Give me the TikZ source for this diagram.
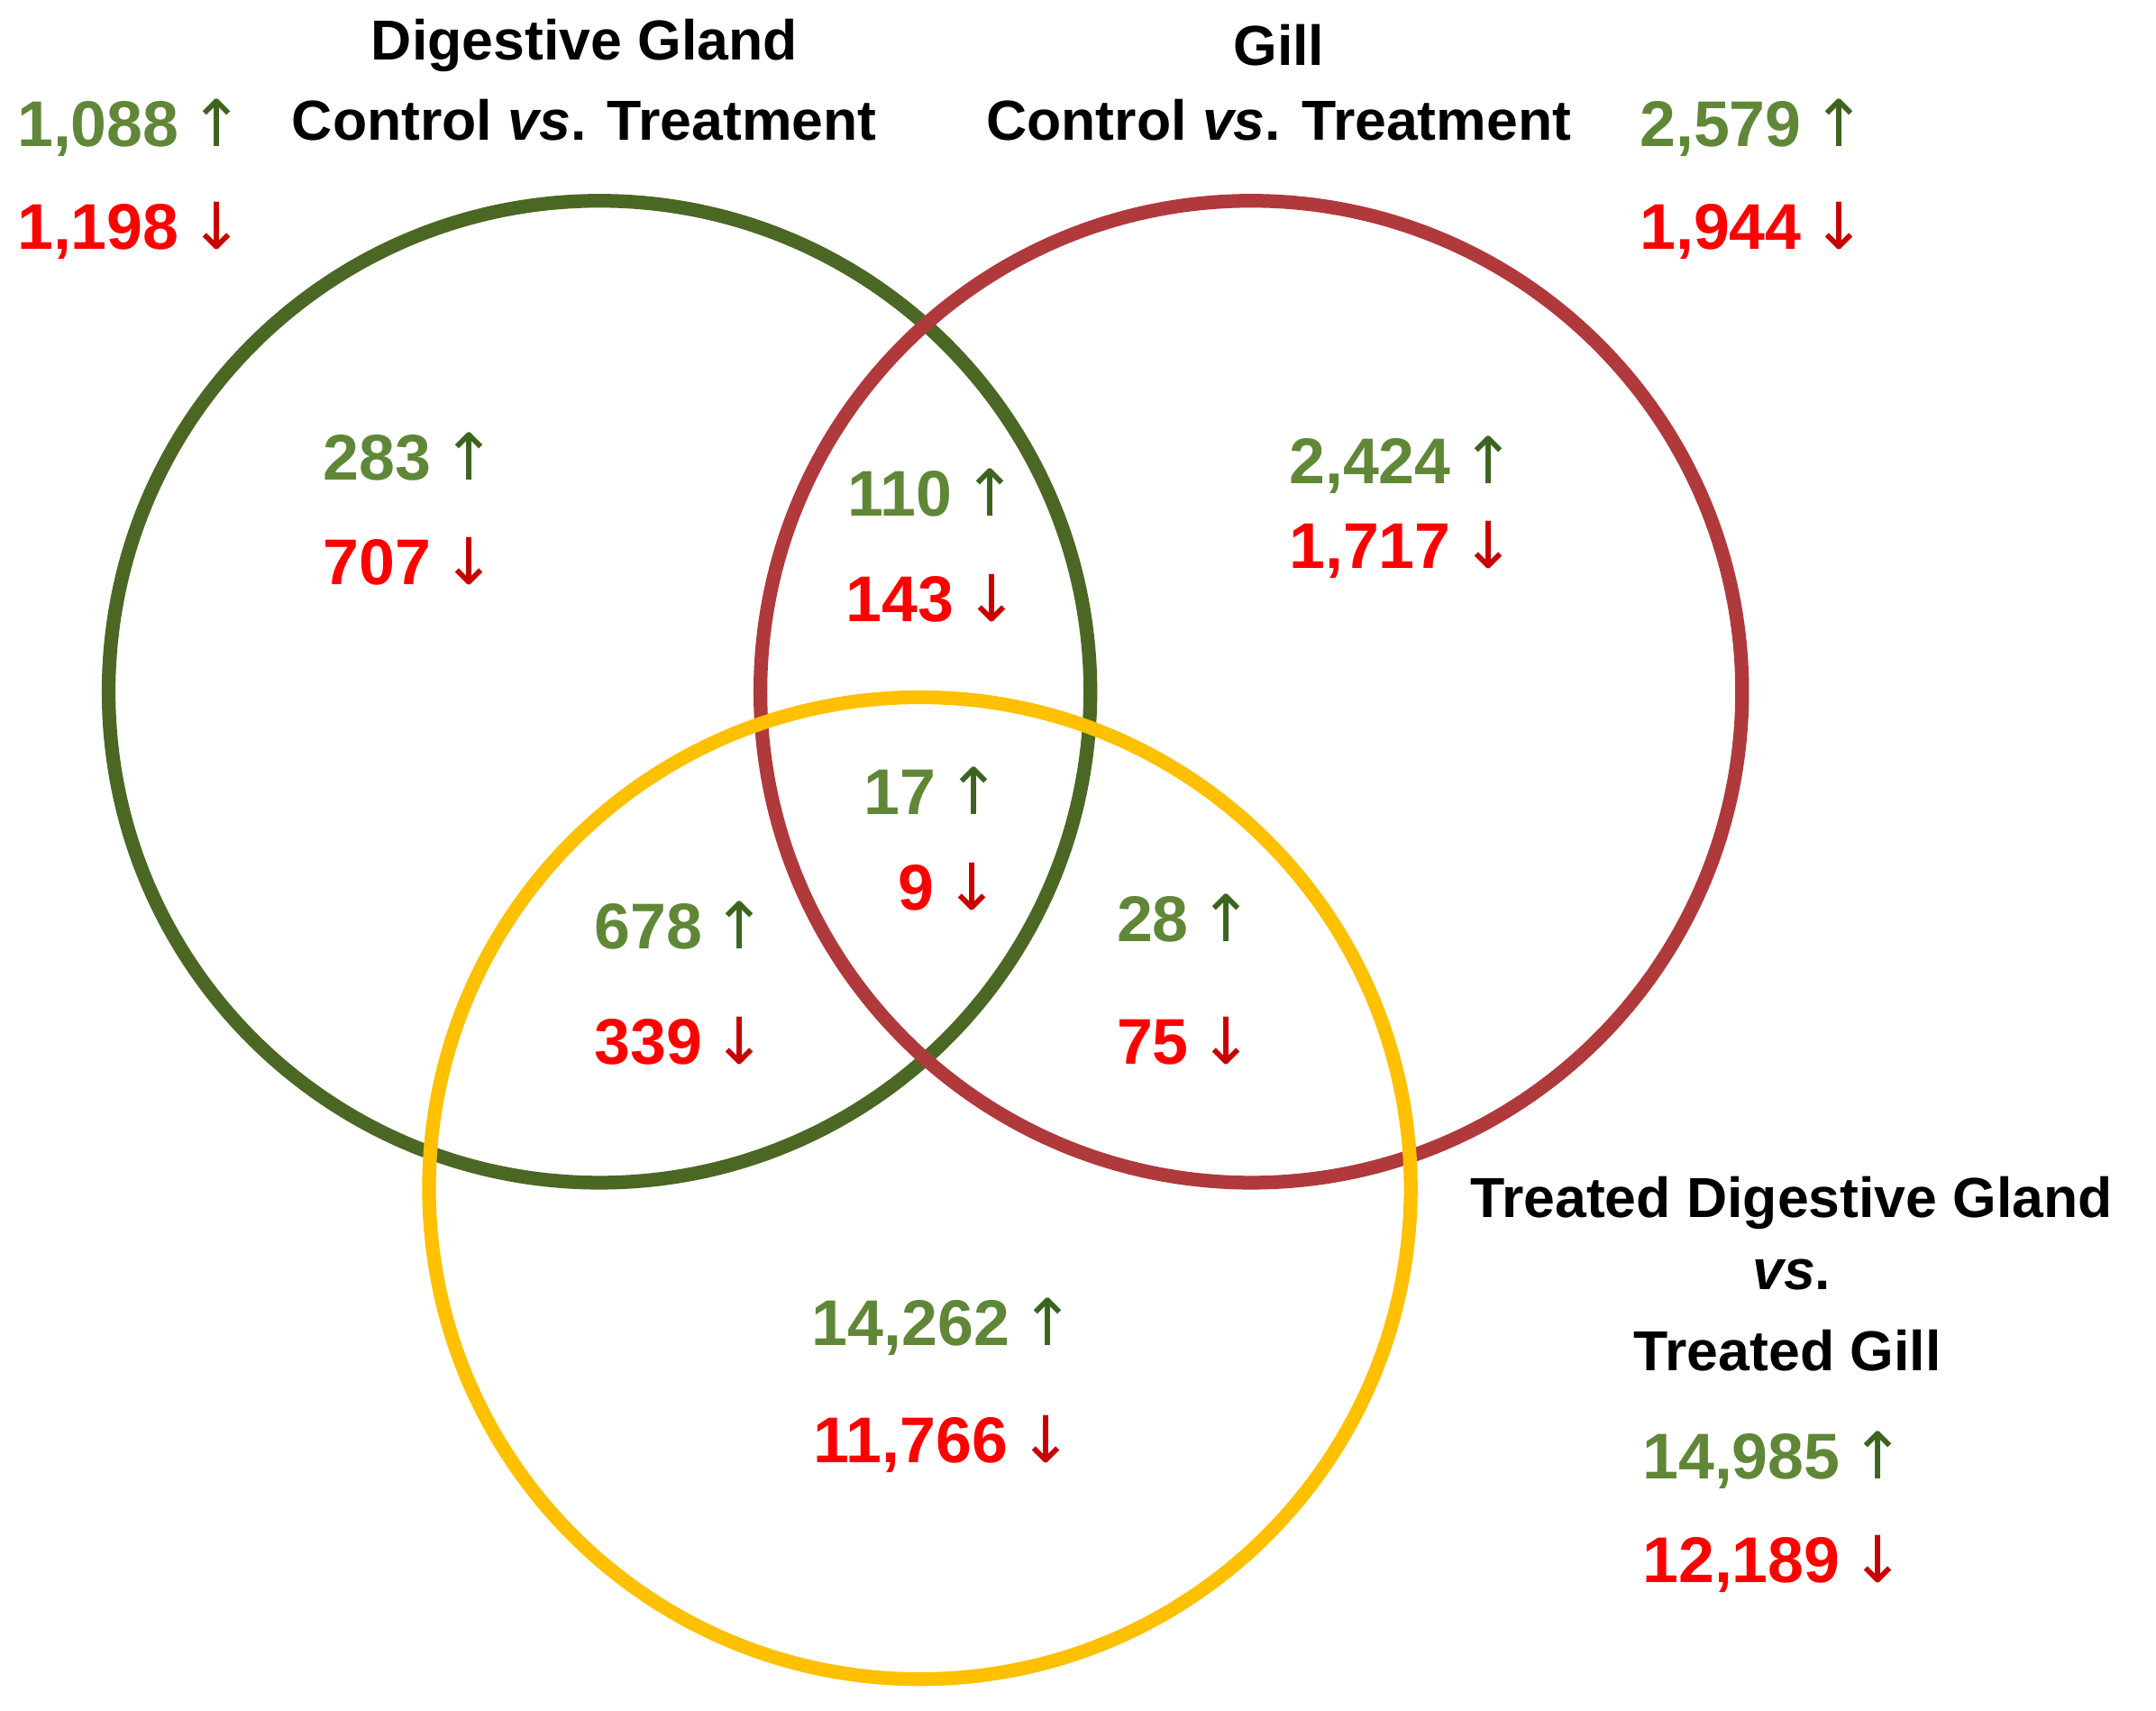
\documentclass[tikz,border=0pt]{standalone}
\usepackage{fontspec}
\setmainfont{Liberation Sans}
\newfontfamily\arrfont{DejaVu Sans}
\definecolor{gtxt}{RGB}{95,135,55}
\definecolor{garr}{RGB}{60,100,30}
\definecolor{rtxt}{RGB}{255,0,0}
\definecolor{rarr}{RGB}{200,0,0}
\definecolor{gcirc}{RGB}{74,104,35}
\definecolor{rcirc}{RGB}{176,57,60}
\definecolor{ycirc}{RGB}{255,192,0}
\newcommand{\upn}[1]{\textcolor{gtxt}{#1}\,{\arrfont\mdseries\textcolor{garr}{↑}}}
\newcommand{\dnn}[1]{\textcolor{rtxt}{#1}\,{\arrfont\mdseries\textcolor{rarr}{↓}}}
\begin{document}
\begin{tikzpicture}[x=1pt,y=-1pt,
  ring/.style={line width=10pt},
  num/.style={font=\fontsize{47}{56}\selectfont\bfseries, inner sep=0pt},
  ttl/.style={font=\fontsize{41}{49}\selectfont\bfseries, inner sep=0pt}]
\useasboundingbox (0,0) rectangle (1568,1244);
\fill[white] (0,0) rectangle (1568,1244);
\draw[ring,gcirc] (436,503) circle (357);
\draw[ring,rcirc] (910,503) circle (357);
\draw[ring,ycirc] (669,864) circle (357);
\node[ttl] (t1) at (425,33) {Digestive Gland};
\node[ttl] (t2) at (425,87) {Control \textit{vs}. Treatment};
\node[ttl] (t3) at (930,33) {Gill};
\node[ttl] (t4) at (930,87) {Control \textit{vs}. Treatment};
\node[ttl] (t5) at (1303,875) {Treated Digestive Gland};
\node[ttl] (t6) at (1303,927) {\textit{vs}.};
\node[ttl] (t7) at (1300,982) {Treated Gill};
\node[num] (a1) at (95,93) {\upn{1,088}};
\node[num] (a2) at (95,168) {\dnn{1,198}};
\node[num] (b1) at (1275,93) {\upn{2,579}};
\node[num] (b2) at (1275,168) {\dnn{1,944}};
\node[num] (c1) at (298,332) {\upn{283}};
\node[num] (c2) at (298,408) {\dnn{707}};
\node[num] (d1) at (678,358) {\upn{110}};
\node[num] (d2) at (678,435) {\dnn{143}};
\node[num] (e1) at (1020,338) {\upn{2,424}};
\node[num] (e2) at (1020,400) {\dnn{1,717}};
\node[num] (f1) at (678,575) {\upn{17}};
\node[num] (f2) at (690,645) {\dnn{9}};
\node[num] (g1) at (495,673) {\upn{678}};
\node[num] (g2) at (495,757) {\dnn{339}};
\node[num] (h1) at (862,668) {\upn{28}};
\node[num] (h2) at (862,757) {\dnn{75}};
\node[num] (i1) at (686,965) {\upn{14,262}};
\node[num] (i2) at (686,1050) {\dnn{11,766}};
\node[num] (j1) at (1290,1062) {\upn{14,985}};
\node[num] (j2) at (1290,1137) {\dnn{12,189}};
\end{tikzpicture}
\end{document}
